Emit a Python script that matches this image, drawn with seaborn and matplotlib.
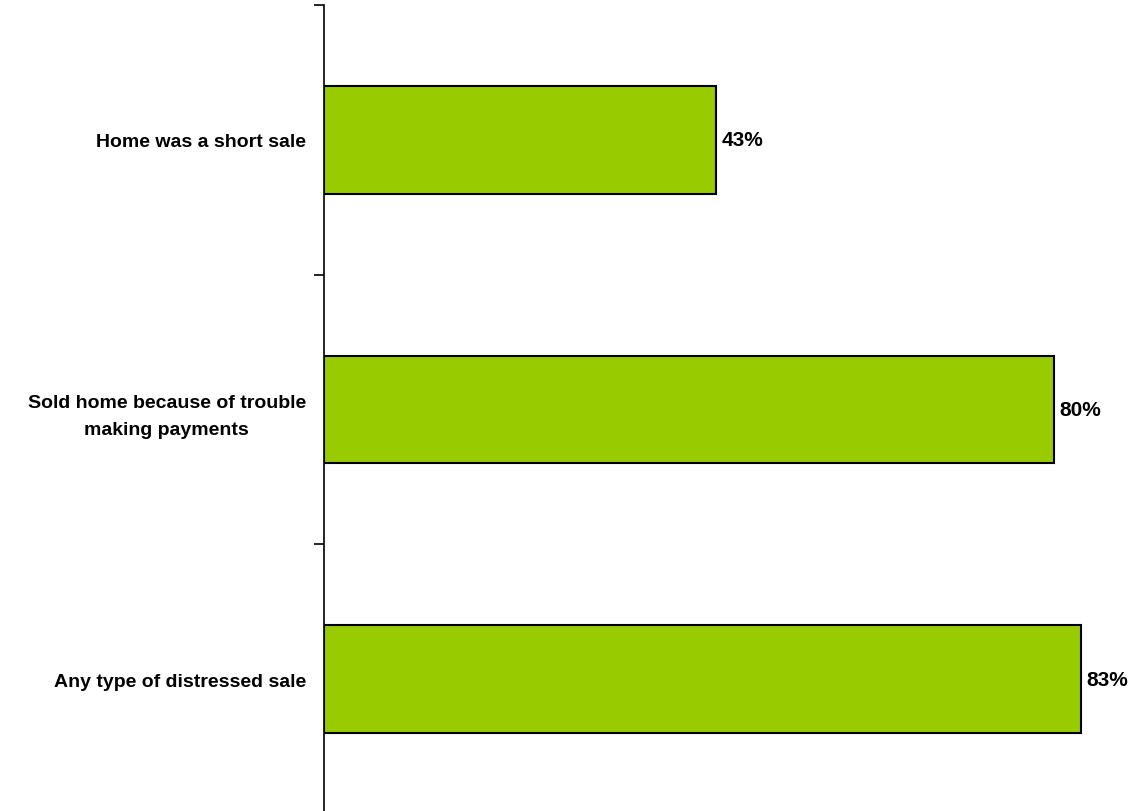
import pandas as pd
import seaborn as sns
import matplotlib.pyplot as plt
from matplotlib.ticker import FixedLocator

# data
categories = ["Home was a short sale",
              "Sold home because of trouble\nmaking payments",
              "Any type of distressed sale"]
values = [43, 80, 83]

df = pd.DataFrame({"category": categories, "value": values})

sns.set_style("white")
plt.rcParams['font.family'] = ['Liberation Sans Narrow', 'Liberation Sans', 'DejaVu Sans']

fig = plt.figure(figsize=(11.44, 8.12), dpi=100)
ax = fig.add_axes([324 / 1144, -3 / 812, 1 - 324 / 1144, 809 / 812])

sns.barplot(data=df, x="value", y="category", orient="h", ax=ax,
            color="#99CC00", edgecolor="black", linewidth=1.5, width=0.4,
            saturation=1)

for i, v in enumerate(values):
    ax.text(v + 0.6, i, f"{v}%", va="center", ha="left",
            fontsize=15, fontweight="bold", color="black")

ax.set_xlim(0, 89.9)
ax.set_ylim(2.5, -0.5)
ax.set_xlabel("")
ax.set_ylabel("")
ax.set_xticks([])

ax.tick_params(axis='y', which='major', length=0, pad=13, labelsize=14, labelcolor='black')
for lbl in ax.get_yticklabels():
    lbl.set_fontweight("bold")
    lbl.set_multialignment("center")
    lbl.set_linespacing(1.7)
ax.yaxis.set_minor_locator(FixedLocator([-0.5, 0.5, 1.5, 2.5]))
ax.tick_params(axis='y', which='minor', length=7, width=1.2, color='black', left=True, direction='out')

for side in ["top", "right", "bottom"]:
    ax.spines[side].set_visible(False)
ax.spines["left"].set_color("black")
ax.spines["left"].set_linewidth(1.2)

plt.savefig("out.png", dpi=100)
